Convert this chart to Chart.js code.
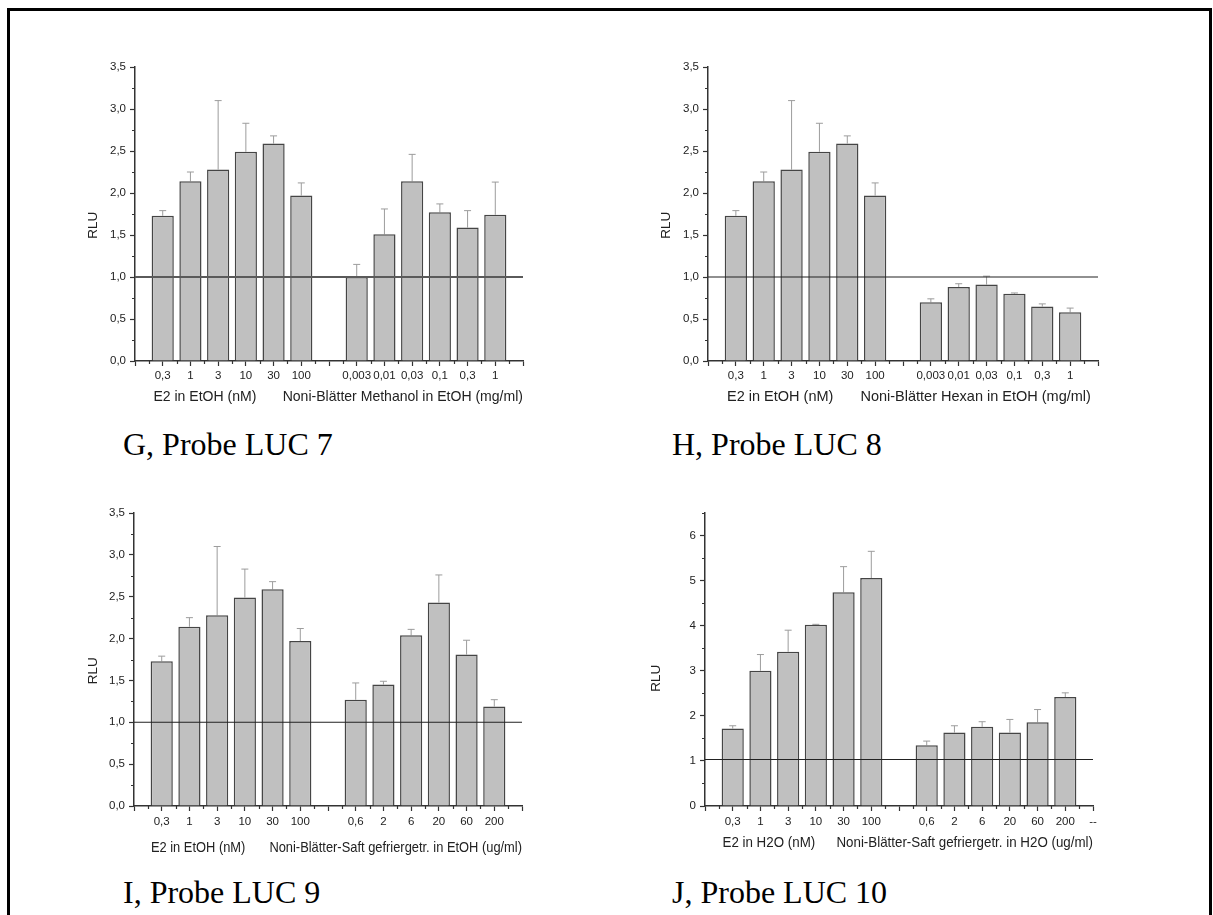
<!DOCTYPE html>
<html>
<head>
<meta charset="utf-8">
<title>Probe LUC 7-10</title>
<script src="https://cdn.jsdelivr.net/npm/chart.js@4.4.1/dist/chart.umd.min.js"></script>
<style>
  html, body { margin: 0; padding: 0; background: #fff; overflow: hidden; }
  body { width: 1213px; height: 915px; position: relative; }
  .frame { position: absolute; left: 7px; top: 8px; width: 1205px; height: 1000px; box-sizing: border-box; border: 3px solid #000; border-bottom: none; }
  canvas { position: absolute; }
  .caption { position: absolute; font-family: 'Liberation Serif', 'Times New Roman', serif; font-size: 32px; line-height: 32px; color: #000; white-space: nowrap; }
</style>
</head>
<body>
<div class="frame"></div>

<canvas id="chartG" width="480" height="370" style="left:60px;top:50px"></canvas>
<canvas id="chartH" width="480" height="370" style="left:633px;top:50px"></canvas>
<canvas id="chartI" width="480" height="369" style="left:59px;top:496px"></canvas>
<canvas id="chartJ" width="480" height="369" style="left:630px;top:496px"></canvas>

<div class="caption" style="left:123px;top:428px">G, Probe LUC 7</div>
<div class="caption" style="left:672px;top:428px">H, Probe LUC 8</div>
<div class="caption" style="left:123px;top:876px">I, Probe LUC 9</div>
<div class="caption" style="left:672px;top:876px">J, Probe LUC 10</div>

<script>
// Konzentrationen (x-Achse)
const e2Labels = ['0,3', '1', '3', '10', '30', '100'];
const extraktLabels = ['0,003', '0,01', '0,03', '0,1', '0,3', '1'];
const saftLabels = ['0,6', '2', '6', '20', '60', '200'];

// E2-Kontrolle in EtOH (G, H, I)
const e2EtOH = [1.73, 2.14, 2.28, 2.49, 2.59, 1.97];
const e2EtOHErr = [0.06, 0.11, 0.82, 0.34, 0.09, 0.15];

// G: Noni-Blätter Methanol
const methanol = [1.00, 1.51, 2.14, 1.77, 1.59, 1.74];
const methanolErr = [0.15, 0.30, 0.32, 0.10, 0.20, 0.39];

// H: Noni-Blätter Hexan
const hexan = [0.70, 0.88, 0.91, 0.80, 0.65, 0.58];
const hexanErr = [0.04, 0.04, 0.10, 0.01, 0.03, 0.05];

// I: Saft gefriergetr. in EtOH
const saftEtOH = [1.27, 1.45, 2.04, 2.43, 1.81, 1.19];
const saftEtOHErr = [0.20, 0.04, 0.07, 0.33, 0.17, 0.08];

// J: E2 und Saft in H2O
const e2H2O = [1.72, 3.00, 3.42, 4.02, 4.74, 5.06];
const e2H2OErr = [0.06, 0.36, 0.48, 0.01, 0.57, 0.59];
const saftH2O = [1.35, 1.63, 1.76, 1.63, 1.86, 2.42];
const saftH2OErr = [0.09, 0.15, 0.11, 0.29, 0.28, 0.09];

// Kontrollniveau
const kontrolle = 1.0;
const kontrolleH2O = 1.03;

const axisColor = '#333';
const textColor = '#222';
const barFill = '#c0c0c0';
const barLine = '#454545';
const errColor = '#9c9c9c';

const sp = n => '\u00a0'.repeat(n);

// leere Kategorie am Anfang, zwischen den Gruppen und am Ende
const slots = (a, b, last) => [last === undefined ? '' : '', ...a, '', ...b, last === undefined ? '' : last];
const slotVals = (a, b) => [null, ...a, null, ...b, null];

// Nebenstriche zwischen den Hauptstrichen
const minorTicks = {
	id: 'minorTicks',
	afterDraw(chart) {
		const {ctx, scales: {x, y}} = chart;
		ctx.save();
		ctx.strokeStyle = axisColor;
		ctx.lineWidth = 1.2;
		ctx.beginPath();
		for (let i = 0; i < x.ticks.length - 1; i++) {
			const px = Math.round((x.getPixelForTick(i) + x.getPixelForTick(i + 1)) / 2) + 0.5;
			ctx.moveTo(px, y.bottom);
			ctx.lineTo(px, y.bottom + 3);
		}
		const yt = y.ticks.map(t => t.value);
		for (let i = 0; i < yt.length; i++) {
			const next = i < yt.length - 1 ? yt[i + 1] : yt[i] + (yt[1] - yt[0]);
			const v = (yt[i] + next) / 2;
			if (v > y.max + 1e-9) break;
			const py = Math.round(y.getPixelForValue(v)) + 0.5;
			ctx.moveTo(x.left, py);
			ctx.lineTo(x.left - 3, py);
		}
		ctx.stroke();
		ctx.restore();
	}
};

let makeChart = (id, p) => {
	const means = slotVals(p.left, p.right);
	const errs = slotVals(p.leftErr, p.rightErr);
	const labels = slots(p.leftLabels, p.rightLabels, p.lastLabel);
	return new Chart(document.getElementById(id), {
		type: 'bar',
		data: {
			labels: labels,
			datasets: [
				{
					type: 'line',
					data: labels.map(() => p.ref),
					borderColor: p.refColor,
					borderWidth: p.refWidth,
					pointRadius: 0,
					order: 0
				},
				{
					data: means,
					backgroundColor: barFill,
					borderColor: barLine,
					borderWidth: 1.5,
					categoryPercentage: 1,
					barPercentage: 0.8,
					grouped: false,
					order: 1
				},
				{
					// Fehlerbalken (nur nach oben)
					data: means.map((v, i) => v === null ? null : [v, v + errs[i]]),
					backgroundColor: errColor,
					borderWidth: 0,
					maxBarThickness: 1,
					grouped: false,
					order: 2
				},
				{
					type: 'line',
					data: means.map((v, i) => v === null ? null : v + errs[i]),
					showLine: false,
					pointStyle: 'line',
					pointRadius: 3.5,
					pointBorderColor: errColor,
					pointBorderWidth: 1,
					order: 2
				}
			]
		},
		options: {
			responsive: false,
			animation: false,
			events: [],
			layout: { padding: { left: 0, right: p.padRight, top: 17, bottom: 0 } },
			plugins: { legend: { display: false }, tooltip: { enabled: false } },
			scales: {
				x: {
					type: 'category',
					offset: false,
					afterFit: s => { s.height = 59; },
					grid: { offset: false, drawOnChartArea: false, tickLength: 5, tickColor: axisColor, tickWidth: 1.2 },
					border: { color: axisColor, width: 1.5 },
					ticks: {
						autoSkip: false, maxRotation: 0, minRotation: 0,
						padding: p.tickPad,
						color: textColor,
						font: { family: 'Liberation Sans', size: 11.5 }
					},
					title: {
						display: true,
						align: 'start',
						text: sp(4) + '\u2009' + p.title,
						color: textColor,
						font: { family: 'Liberation Sans', size: 14.5 },
						padding: { top: 0, bottom: p.titlePad }
					}
				},
				y: {
					min: 0,
					max: p.yMax,
					afterFit: s => { s.width = 75; },
					grid: { drawOnChartArea: false, tickLength: 5, tickColor: axisColor, tickWidth: 1.2 },
					border: { color: axisColor, width: 1.5 },
					ticks: {
						stepSize: p.yStep,
						includeBounds: false,
						padding: 4,
						color: textColor,
						font: { family: 'Liberation Sans', size: 11.5 },
						callback: v => p.yStep < 1 ? v.toFixed(1).replace('.', ',') : String(v)
					},
					title: {
						display: true,
						text: 'RLU' + sp(p.rluShift),
						color: textColor,
						font: { family: 'Liberation Sans', size: 13.5 },
						padding: { top: p.rluPad, bottom: 0 }
					}
				}
			}
		},
		plugins: [minorTicks]
	});
};

makeChart('chartG', {
	left: e2EtOH, leftErr: e2EtOHErr, right: methanol, rightErr: methanolErr,
	leftLabels: e2Labels, rightLabels: extraktLabels,
	title: 'E2 in EtOH (nM)' + sp(6) + '\u2009' + 'Noni-Blätter Methanol in EtOH (mg/ml)',
	yMax: 3.5, yStep: 0.5, ref: kontrolle, refColor: '#5a5a5a', refWidth: 1.8,
	padRight: 17, tickPad: 3, titlePad: 14, rluPad: 25, rluShift: 6
});

makeChart('chartH', {
	left: e2EtOH, leftErr: e2EtOHErr, right: hexan, rightErr: hexanErr,
	leftLabels: e2Labels, rightLabels: extraktLabels,
	title: 'E2 in EtOH (nM)' + sp(6) + '\u2009' + 'Noni-Blätter Hexan in EtOH (mg/ml)',
	yMax: 3.5, yStep: 0.5, ref: kontrolle, refColor: '#222', refWidth: 1.1,
	padRight: 15, tickPad: 3, titlePad: 14, rluPad: 25, rluShift: 6
});

makeChart('chartI', {
	left: e2EtOH, leftErr: e2EtOHErr, right: saftEtOH, rightErr: saftEtOHErr,
	leftLabels: e2Labels, rightLabels: saftLabels,
	title: 'E2 in EtOH (nM)' + sp(6) + '\u2009' + 'Noni-Blätter-Saft gefriergetr. in EtOH (ug/ml)',
	yMax: 3.5, yStep: 0.5, ref: kontrolle, refColor: '#222', refWidth: 1.1,
	padRight: 17, tickPad: 4, titlePad: 8, rluPad: 26, rluShift: 6
});

makeChart('chartJ', {
	left: e2H2O, leftErr: e2H2OErr, right: saftH2O, rightErr: saftH2OErr,
	leftLabels: e2Labels, rightLabels: saftLabels, lastLabel: '--',
	title: 'E2 in H2O (nM)' + sp(5) + '\u2009' + 'Noni-Blätter-Saft gefriergetr. in H2O (ug/ml)',
	yMax: 6.5, yStep: 1, ref: kontrolleH2O, refColor: '#222', refWidth: 1.1,
	padRight: 17, tickPad: 4, titlePad: 13, rluPad: 18, rluShift: 10
});
</script>
</body>
</html>
